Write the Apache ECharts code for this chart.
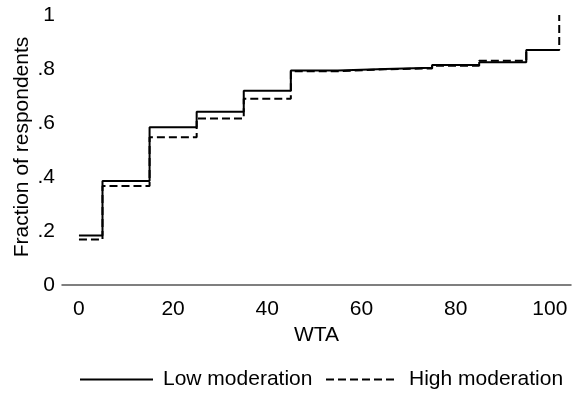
<!DOCTYPE html>
<html>
<head>
<meta charset="utf-8">
<script src="https://cdn.jsdelivr.net/npm/echarts@6/dist/echarts.min.js"></script>
<style>
html,body{margin:0;padding:0;background:#fff;}
#chart{width:573px;height:396px;}
</style>
</head>
<body>
<div id="chart"></div>
<script>
var wtaSteps = [0, 5, 15, 25, 35, 45, 55, 65, 75, 85, 95, 102];
var lowModeration = [0.183, 0.385, 0.584, 0.642, 0.719, 0.794, 0.800, 0.805, 0.815, 0.825, 0.870, 0.870];
var highModeration = [0.169, 0.367, 0.547, 0.617, 0.690, 0.792, 0.799, 0.802, 0.812, 0.831, 0.870, 1.000];
var xTicks = [0, 20, 40, 60, 80, 100];
var yTicks = [0, 0.2, 0.4, 0.6, 0.8, 1];
var seriesNames = ['Low moderation', 'High moderation'];

function pairs(xs, ys) { return xs.map(function (x, i) { return [x, ys[i]]; }); }
function yFmt(v) {
  var r = Math.round(v * 10) / 10;
  if (r === 0) return '0';
  if (r === 1) return '1';
  return String(r).replace(/^0/, '');
}
var FONT = 'Liberation Sans';
var FS = 21;
var chart = echarts.init(document.getElementById('chart'), null, {renderer: 'canvas'});
chart.setOption({
  animation: false,
  backgroundColor: '#fff',
  grid: {left: 62, right: 2, top: 12, bottom: 99, containLabel: false},
  xAxis: {
    type: 'value', min: -3.6, max: 104.5,
    splitLine: {show: false},
    axisTick: {show: false},
    axisLine: {show: true, lineStyle: {color: '#555', width: 1.5}},
    axisLabel: {customValues: xTicks, color: '#000', fontFamily: FONT, fontSize: FS, margin: 2},
    name: 'WTA', nameLocation: 'middle', nameGap: 27,
    nameTextStyle: {color: '#000', fontFamily: FONT, fontSize: FS}
  },
  yAxis: {
    type: 'value', min: -0.0444, max: 1.0111,
    splitLine: {show: false},
    axisTick: {show: false},
    axisLine: {show: false},
    axisLabel: {customValues: yTicks, formatter: yFmt, color: '#000', fontFamily: FONT, fontSize: FS, margin: 7}
  },
  graphic: [{
    type: 'text', x: 22, y: 147, rotation: Math.PI / 2,
    style: {text: 'Fraction of respondents', fill: '#000', font: FS + 'px "Liberation Sans"', align: 'center', verticalAlign: 'middle'}
  }],
  legend: [{
    data: [seriesNames[0]], left: 79, top: 369, padding: 0,
    itemWidth: 73, itemHeight: 14,
    itemStyle: {opacity: 0},
    textStyle: {color: '#000', fontFamily: FONT, fontSize: FS, padding: [0, 0, 0, 5]}
  }, {
    data: [seriesNames[1]], left: 325, top: 369, padding: 0,
    itemWidth: 72, itemHeight: 14,
    itemStyle: {opacity: 0},
    textStyle: {color: '#000', fontFamily: FONT, fontSize: FS, padding: [0, 0, 0, 6]}
  }],
  series: [{
    name: seriesNames[0], type: 'line', step: 'end', symbol: 'none',
    data: pairs(wtaSteps, lowModeration),
    lineStyle: {color: '#000', width: 2}, itemStyle: {color: '#000'}, z: 2
  }, {
    name: seriesNames[1], type: 'line', step: 'end', symbol: 'none',
    data: pairs(wtaSteps, highModeration),
    lineStyle: {color: '#000', width: 2, type: [8, 4]}, itemStyle: {color: '#000'}, z: 3
  }]
});
</script>
</body>
</html>
